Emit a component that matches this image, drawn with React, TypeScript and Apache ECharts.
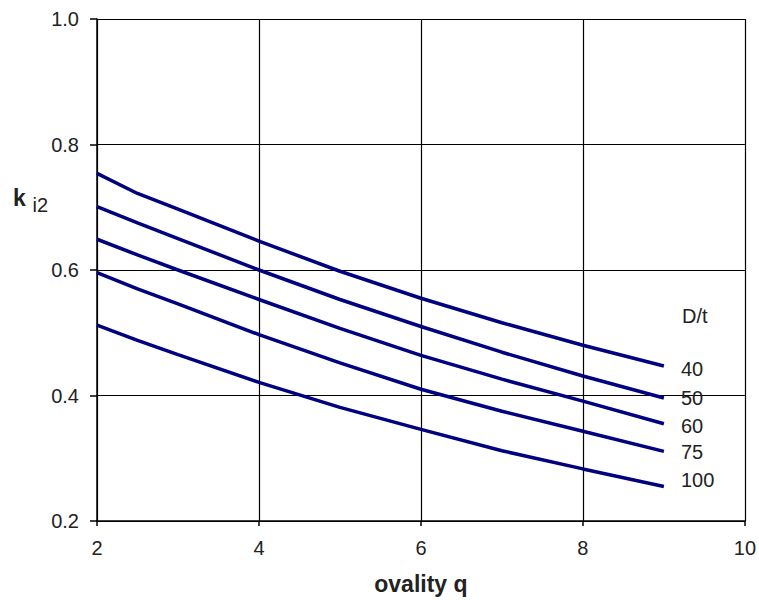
import React, { useEffect, useRef } from "react";
import * as echarts from "echarts";

const ovality = [2, 2.5, 3, 4, 5, 6, 7, 8, 9];
const seriesNames = ["40", "50", "60", "75", "100"];
const dt40 = [0.754, 0.722, 0.697, 0.646, 0.598, 0.555, 0.516, 0.48, 0.447];
const dt50 = [0.701, 0.675, 0.65, 0.6, 0.553, 0.51, 0.469, 0.431, 0.396];
const dt60 = [0.649, 0.624, 0.6, 0.553, 0.507, 0.464, 0.426, 0.391, 0.355];
const dt75 = [0.596, 0.57, 0.546, 0.497, 0.452, 0.41, 0.375, 0.343, 0.311];
const dt100 = [0.512, 0.488, 0.465, 0.421, 0.381, 0.346, 0.312, 0.283, 0.255];
const seriesValues = [dt40, dt50, dt60, dt75, dt100];
const labelOffsets = [3, 0, 2, 1, -6];

const FONT = "'Liberation Sans', Arial, sans-serif";
const TEXT = "#222";

export default function App() {
  const ref = useRef<HTMLDivElement>(null);
  useEffect(() => {
    if (!ref.current) return;
    const chart = echarts.init(ref.current, undefined, { renderer: "svg" });
    chart.setOption({
      animation: false,
      backgroundColor: "#fff",
      grid: { left: 97, right: 14, top: 19, bottom: 78.5, containLabel: false },
      xAxis: {
        type: "value",
        min: 2,
        max: 10,
        interval: 2,
        name: "ovality q",
        nameLocation: "middle",
        nameGap: 51,
        nameTextStyle: { fontFamily: FONT, fontSize: 23, fontWeight: "bold", color: TEXT },
        axisLine: { show: true, onZero: false, lineStyle: { color: "#000", width: 1.5 } },
        axisTick: { show: true, length: 5, lineStyle: { color: "#000", width: 1.5 } },
        axisLabel: { fontFamily: FONT, fontSize: 20, color: TEXT, margin: 17 },
        splitLine: { show: true, lineStyle: { color: "#000", width: 1.2 } },
      },
      yAxis: {
        type: "value",
        min: 0.2,
        max: 1.0,
        interval: 0.2,
        axisLine: { show: true, onZero: false, lineStyle: { color: "#000", width: 1.5 } },
        axisTick: { show: true, length: 7, lineStyle: { color: "#000", width: 1.5 } },
        axisLabel: {
          fontFamily: FONT,
          fontSize: 20,
          color: TEXT,
          margin: 18,
          formatter: (v: number) => v.toFixed(1),
        },
        splitLine: { show: true, lineStyle: { color: "#000", width: 1.2 } },
      },
      graphic: [
        {
          type: "text",
          left: 13,
          top: 186,
          style: {
            text: "{k|k}  {i|i2}",
            rich: {
              k: { fontFamily: FONT, fontSize: 23, fontWeight: "bold", fill: TEXT },
              i: { fontFamily: FONT, fontSize: 20, fill: TEXT, padding: [14, 0, 0, 0] },
            },
          },
        },
        {
          type: "text",
          left: 682,
          top: 306,
          style: { text: "D/t", fontFamily: FONT, fontSize: 20, fill: TEXT },
        },
      ],
      series: seriesNames.map((name, i) => ({
        type: "line",
        name,
        data: ovality.map((x, j) => [x, seriesValues[i][j]]),
        showSymbol: false,
        symbol: "none",
        lineStyle: { color: "#000080", width: 3.5 },
        itemStyle: { color: "#000080" },
        endLabel: {
          show: true,
          formatter: name,
          fontFamily: FONT,
          fontSize: 20,
          color: TEXT,
          distance: 17,
          offset: [0, labelOffsets[i]],
        },
      })),
    });
    return () => chart.dispose();
  }, []);
  return (
    <div
      ref={ref}
      style={{ position: "fixed", left: 0, top: 0, width: 759, height: 600 }}
    />
  );
}
